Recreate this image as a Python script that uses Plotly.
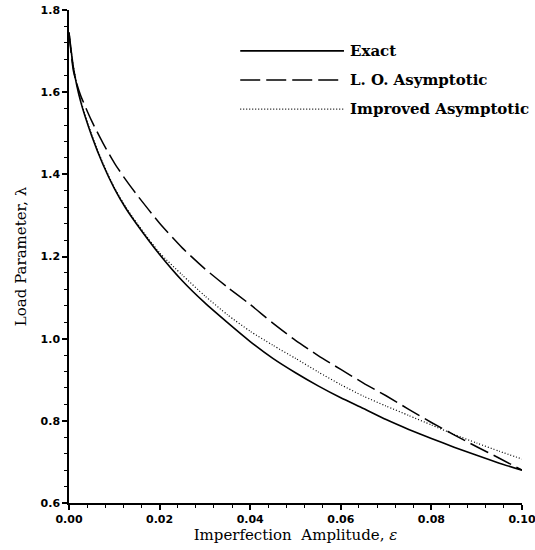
import plotly.graph_objects as go

# Imperfection amplitude (epsilon)
eps = [0.0, 0.001, 0.0025, 0.005, 0.0075, 0.010, 0.0125, 0.015, 0.020, 0.025, 0.030,
       0.035, 0.040, 0.045, 0.050, 0.055, 0.060, 0.065, 0.070, 0.075, 0.080,
       0.085, 0.090, 0.095, 0.100]

# Load parameter (lambda) for each solution
lam_exact = [1.745, 1.658, 1.580, 1.494, 1.424, 1.366, 1.318, 1.278, 1.205, 1.141, 1.087,
             1.039, 0.993, 0.952, 0.917, 0.885, 0.856, 0.830, 0.803, 0.779, 0.757,
             0.736, 0.716, 0.697, 0.680]
lam_lo = [1.745, 1.650, 1.594, 1.530, 1.476, 1.428, 1.387, 1.350, 1.281, 1.221, 1.170,
          1.125, 1.083, 1.038, 0.996, 0.959, 0.925, 0.892, 0.861, 0.828, 0.796,
          0.766, 0.737, 0.709, 0.680]
lam_improved = [1.745, 1.660, 1.583, 1.497, 1.427, 1.368, 1.321, 1.281, 1.209, 1.155, 1.104,
                1.058, 1.018, 0.984, 0.952, 0.919, 0.888, 0.860, 0.836, 0.813, 0.790,
                0.767, 0.746, 0.726, 0.707]

legend_labels = ["Exact", "L. O. Asymptotic", "Improved Asymptotic"]
x_ticks = [0.0, 0.02, 0.04, 0.06, 0.08, 0.10]
y_ticks = [0.6, 0.8, 1.0, 1.2, 1.4, 1.6, 1.8]

series = [
    (lam_exact, dict(color="black", width=1.6, dash="solid")),
    (lam_lo, dict(color="black", width=1.5, dash="20px,6px")),
    (lam_improved, dict(color="black", width=1.2, dash="1px,2px")),
]

fig = go.Figure()
for (vals, line), name in zip(series, legend_labels):
    fig.add_trace(go.Scatter(x=eps, y=vals, mode="lines", name=name,
                             line=dict(shape="spline", smoothing=0.6, **line),
                             showlegend=False, cliponaxis=True))

# Hand-drawn legend with long line samples
legend_rows = [0.917, 0.858, 0.799]
for (vals, line), name, yy in zip(series, legend_labels, legend_rows):
    fig.add_shape(type="line", xref="paper", yref="paper",
                  x0=0.378, x1=0.607, y0=yy, y1=yy,
                  line=dict(color="black", width=line["width"], dash=line["dash"]))
    fig.add_annotation(xref="paper", yref="paper", x=0.615, y=yy,
                       xanchor="left", yanchor="middle", showarrow=False,
                       text="<b>" + name + "</b>",
                       font=dict(family="DejaVu Serif", size=15, color="black"))

tickfont = dict(family="DejaVu Sans", size=11, color="black", weight="bold")
titlefont = dict(family="DejaVu Serif", size=15, color="black")

fig.update_layout(
    width=535, height=550,
    margin=dict(l=69, r=13, t=10, b=47),
    paper_bgcolor="white", plot_bgcolor="white",
    xaxis=dict(
        range=[-1e-7, 0.1 + 1e-7], tickvals=x_ticks, tickformat=".2f",
        ticklabeloverflow="allow", automargin=False,
        showline=True, linecolor="black", linewidth=1.5,
        ticks="outside", ticklen=5, tickwidth=1.5, tickcolor="black",
        minor=dict(ticks="outside", ticklen=3, tickwidth=1, dtick=0.004,
                   tick0=0, tickcolor="black", showgrid=False),
        showgrid=False, zeroline=False, tickfont=tickfont,
        title=dict(text="Imperfection  Amplitude, <i>ε</i>", font=titlefont,
                   standoff=4),
    ),
    yaxis=dict(
        range=[0.6, 1.8 + 1e-6], tickvals=y_ticks, tickformat=".1f",
        ticklabeloverflow="allow", automargin=False,
        showline=True, linecolor="black", linewidth=1.5,
        ticks="outside", ticklen=5, tickwidth=1.5, tickcolor="black",
        minor=dict(ticks="outside", ticklen=3, tickwidth=1, dtick=0.04,
                   tick0=0.6, tickcolor="black", showgrid=False),
        showgrid=False, zeroline=False, tickfont=tickfont,
        title=dict(text="Load Parameter, λ", font=titlefont, standoff=10),
    ),
)

fig.write_html("out.html")
